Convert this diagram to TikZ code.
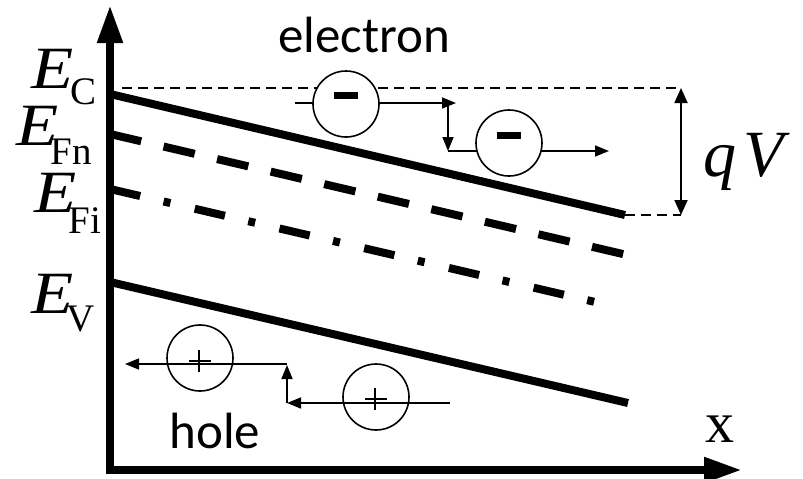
\documentclass[tikz,border=0pt]{standalone}
\usepackage{fontspec}
\setmainfont{Liberation Serif}
\newfontfamily\calfont{Carlito}
\usetikzlibrary{arrows.meta}
\newcommand{\wideE}{\scalebox{1.15}[1]{\itshape E}}
\newcommand{\elevel}[3]{\wideE\kern#1\raisebox{#2}{\fontsize{39}{42}\selectfont #3}}
\begin{document}
\begin{tikzpicture}[x=1pt,y=-1pt,
  band/.style={line width=8pt},
  fnline/.style={line width=8pt,dash pattern=on 32pt off 23pt},
  filine/.style={line width=8pt,dash pattern=on 31pt off 24pt on 7pt off 25pt},
  guide/.style={line width=1.6pt,dash pattern=on 10pt off 6pt},
  axis/.style={line width=8pt,-{Triangle[length=38pt,width=24pt]}},
  mover/.style={line width=1.6pt,-{Triangle[length=14pt,width=11pt]}},
  span/.style={line width=1.8pt,{Triangle[length=15pt,width=13pt]}-{Triangle[length=15pt,width=13pt]}},
  carrier/.style={circle,draw,line width=1.6pt,minimum size=66pt,inner sep=0pt},
  elab/.style={inner sep=0pt,anchor=base west,font=\fontsize{60}{62}\selectfont},
  ctext/.style={inner sep=0pt,anchor=base,font=\fontsize{51}{55}\selectfont\calfont}
]
\useasboundingbox (0,0) rectangle (803,479);

% coordinates
\coordinate (o) at (110,470);
\coordinate (ytip) at (110,5);
\coordinate (xtip) at (742,470);
\coordinate (ecL) at (110,94);  \coordinate (ecR) at (625,215);
\coordinate (fnL) at (110,134); \coordinate (fnR) at (627,255);
\coordinate (fiL) at (110,189); \coordinate (fiR) at (608,305);
\coordinate (evL) at (110,282); \coordinate (evR) at (628,403);
\coordinate (gT) at (122,88);   \coordinate (gTR) at (681,88);
\coordinate (gBR) at (681,215);

% energy levels
\draw[guide] (gT) -- (gTR);
\draw[guide] (ecR) -- (gBR);
\draw[span] (gTR) -- (gBR);
\draw[band] (ecL) -- (ecR);
\draw[fnline] (fnL) -- (fnR);
\draw[filine] (fiL) -- (fiR);
\draw[band] (evL) -- (evR);

% axes
\draw[axis] ([yshift=4pt]o) -- (ytip);
\draw[axis] ([xshift=-4pt]o) -- (xtip);

% labels
\node[elab] (ec) at (31,88) {\elevel{-3pt}{-16pt}{C}};
\node[elab] (efn) at (16,145) {\elevel{-8pt}{-19pt}{Fn}};
\node[elab] (efi) at (34,212) {\elevel{-8pt}{-21pt}{Fi}};
\node[elab] (ev) at (31,313) {\elevel{-7pt}{-18pt}{V}};
\node[inner sep=0pt,anchor=base west,font=\fontsize{66}{70}\selectfont\itshape] (qv) at (703,176) {q\hspace{7pt}V};
\node[inner sep=0pt,anchor=base,font=\fontsize{58}{60}\selectfont] (xl) at (720,442) {x};
\node[ctext] (el) at (364,52) {electron};
\node[ctext] (hl) at (215,448) {hole};

% electron motion
\coordinate (a0) at (295,103); \coordinate (a1) at (456,103);
\coordinate (b0) at (448,105); \coordinate (b1) at (448,151);
\coordinate (c0) at (448,151); \coordinate (c1) at (609,151);
\draw[mover] (a0) -- (a1);
\draw[mover] (b0) -- (b1);
\draw[mover] (c0) -- (c1);
\node[carrier,fill=white] (e1) at (346,104) {};
\node[carrier,fill=white] (e2) at (509,143) {};
\fill ([xshift=-12pt,yshift=5pt]e1.center) rectangle ([xshift=12pt,yshift=12pt]e1.center);
\fill ([xshift=-12pt,yshift=4pt]e2.center) rectangle ([xshift=12pt,yshift=11pt]e2.center);

% hole motion
\coordinate (h0) at (287,364); \coordinate (h1e) at (125,364);
\coordinate (v0) at (287,403); \coordinate (v1) at (287,365);
\coordinate (w0) at (450,403); \coordinate (w1) at (287,403);
\draw[mover] (h0) -- (h1e);
\draw[mover] (v0) -- (v1);
\draw[mover] (w0) -- (w1);
\node[carrier] (p1) at (200,358) {};
\node[carrier] (p2) at (376,397) {};
\draw[line width=1.6pt] ([xshift=-11pt,yshift=-3pt]p1.center) -- ([xshift=11pt,yshift=-3pt]p1.center)
  ([xshift=-1pt,yshift=-14pt]p1.center) -- ([xshift=-1pt,yshift=8pt]p1.center);
\draw[line width=1.6pt] ([xshift=-11pt,yshift=-2pt]p2.center) -- ([xshift=11pt,yshift=-2pt]p2.center)
  ([xshift=-1pt,yshift=-13pt]p2.center) -- ([xshift=-1pt,yshift=9pt]p2.center);
\end{tikzpicture}
\end{document}
